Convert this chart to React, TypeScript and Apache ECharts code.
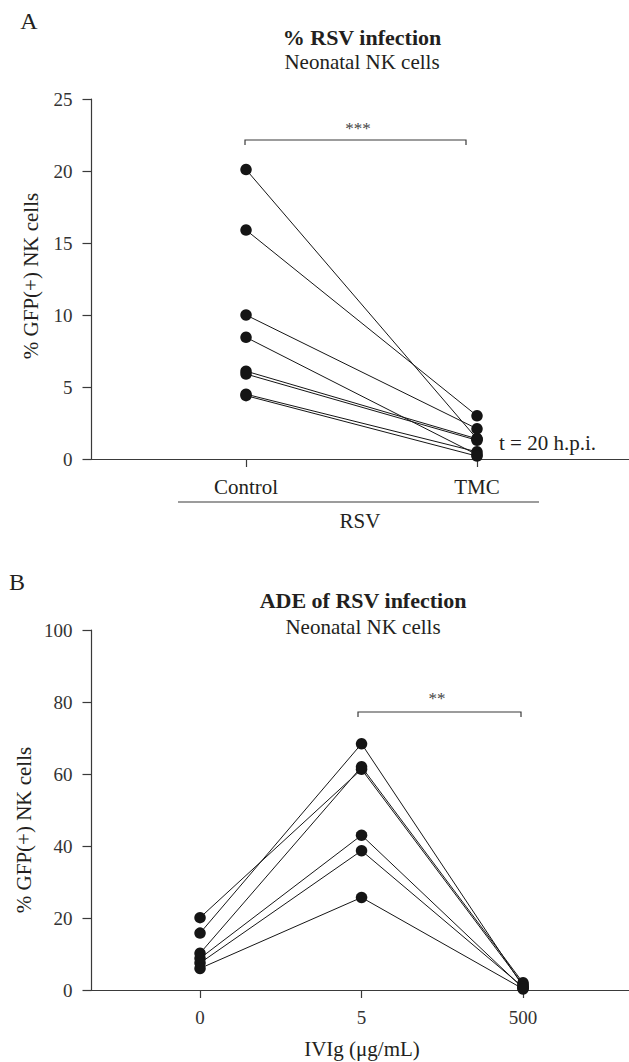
import React, { useEffect, useRef } from "react";
import * as echarts from "echarts";

// Panel A data
const aCategories = ["Control", "TMC"];
const aControl = [20.1, 15.9, 10.0, 8.45, 6.1, 5.9, 4.5, 4.4];
const aTMC = [1.4, 3.0, 2.1, 0.3, 1.4, 1.3, 0.5, 0.2];

// Panel B data
const bCategories = ["0", "5", "500"];
const bDose0 = [20.1, 15.8, 10.2, 8.8, 7.5, 6.0];
const bDose5 = [61.3, 68.4, 62.0, 43.0, 38.7, 25.7];
const bDose500 = [1.5, 1.0, 2.0, 0.5, 0.8, 0.3];

const FONT = "'Liberation Serif', 'Times New Roman', serif";
const INK = "#231f20";
const AXIS = "#3a3a3a";

function txt(x: number, y: number, text: string, size: number, opts: any = {}) {
  return {
    type: "text",
    x,
    y,
    rotation: opts.rotation ?? 0,
    style: {
      text,
      fontFamily: FONT,
      fontSize: size,
      fontWeight: opts.bold ? "bold" : "normal",
      fill: opts.fill ?? INK,
      textAlign: opts.align ?? "center",
      textVerticalAlign: "middle",
    },
  };
}

export default function App() {
  const ref = useRef<HTMLDivElement>(null);

  useEffect(() => {
    if (!ref.current) return;
    const chart = echarts.init(ref.current, null, { renderer: "svg" });

    const lineStyleBase = { color: "#151515", width: 1 };
    const series: any[] = [];
    aControl.forEach((v, i) => {
      series.push({
        type: "line",
        xAxisIndex: 0,
        yAxisIndex: 0,
        data: [
          [0, v],
          [1, aTMC[i]],
        ],
        symbol: "circle",
        symbolSize: 11.5,
        lineStyle: lineStyleBase,
        itemStyle: { color: "#151515" },
        silent: true,
      });
    });
    bDose0.forEach((v, i) => {
      series.push({
        type: "line",
        xAxisIndex: 1,
        yAxisIndex: 1,
        data: [
          [0, v],
          [1, bDose5[i]],
          [2, bDose500[i]],
        ],
        symbol: "circle",
        symbolSize: 11.5,
        lineStyle: lineStyleBase,
        itemStyle: { color: "#151515" },
        silent: true,
      });
    });

    const yAxisCommon = {
      type: "value",
      axisLine: { show: true, onZero: false, lineStyle: { color: AXIS, width: 1.2 } },
      axisTick: { show: true, inside: false, length: 9, lineStyle: { color: AXIS, width: 1.2 } },
      splitLine: { show: false },
      axisLabel: { fontFamily: FONT, fontSize: 19, color: "#333", margin: 19 },
    };
    const xAxisCommon = {
      type: "value",
      axisLine: { show: true, onZero: false, lineStyle: { color: AXIS, width: 1.2 } },
      axisTick: { show: true, length: 8, lineStyle: { color: AXIS, width: 1.2 } },
      splitLine: { show: false },
    };

    const option: any = {
      animation: false,
      backgroundColor: "#ffffff",
      grid: [
        { left: 91.5, top: 99, width: 537.5, height: 360 },
        { left: 91.5, top: 630, width: 537.5, height: 360 },
      ],
      xAxis: [
        {
          ...xAxisCommon,
          gridIndex: 0,
          min: -0.669,
          max: 1.658,
          axisTick: { ...xAxisCommon.axisTick, customValues: [0, 1] },
          axisLabel: {
            customValues: [0, 1],
            formatter: (v: number) => aCategories[Math.round(v)] ?? "",
            fontFamily: FONT,
            fontSize: 21,
            color: INK,
            margin: 17,
          },
        },
        {
          ...xAxisCommon,
          gridIndex: 1,
          min: -0.672,
          max: 2.656,
          axisTick: { ...xAxisCommon.axisTick, customValues: [0, 1, 2] },
          axisLabel: {
            customValues: [0, 1, 2],
            formatter: (v: number) => bCategories[Math.round(v)] ?? "",
            fontFamily: FONT,
            fontSize: 19,
            color: "#333",
            margin: 18,
          },
        },
      ],
      yAxis: [
        { ...yAxisCommon, gridIndex: 0, min: 0, max: 25, interval: 5 },
        { ...yAxisCommon, gridIndex: 1, min: 0, max: 100, interval: 20 },
      ],
      series,
      graphic: [
        txt(29, 21, "A", 24),
        txt(17, 582, "B", 24),
        txt(362, 37, "% RSV infection", 22, { bold: true }),
        txt(362, 62, "Neonatal NK cells", 21),
        txt(363, 600, "ADE of RSV infection", 22, { bold: true }),
        txt(363, 627, "Neonatal NK cells", 21),
        txt(31, 276, "% GFP(+) NK cells", 21, { rotation: Math.PI / 2 }),
        txt(24, 830, "% GFP(+) NK cells", 21, { rotation: Math.PI / 2 }),
        { type: "polyline", shape: { points: [[245, 145], [245, 140], [466, 140], [466, 145]] }, style: { stroke: AXIS, lineWidth: 1.2, fill: "none" } },
        txt(358, 128, "***", 17, { fill: "#444" }),
        { type: "polyline", shape: { points: [[358, 717], [358, 712], [521, 712], [521, 717]] }, style: { stroke: AXIS, lineWidth: 1.2, fill: "none" } },
        txt(437, 698, "**", 17, { fill: "#444" }),
        { type: "line", shape: { x1: 178, y1: 502, x2: 539, y2: 502 }, style: { stroke: AXIS, lineWidth: 1.2 } },
        txt(360, 521, "RSV", 21),
        txt(499, 443, "t = 20 h.p.i.", 21, { align: "left" }),
        txt(362, 1049, "IVIg (μg/mL)", 21),
      ],
    };

    chart.setOption(option);
    return () => chart.dispose();
  }, []);

  return (
    <div
      ref={ref}
      style={{ position: "fixed", left: 0, top: 0, width: 629, height: 1062, background: "#fff" }}
    />
  );
}
